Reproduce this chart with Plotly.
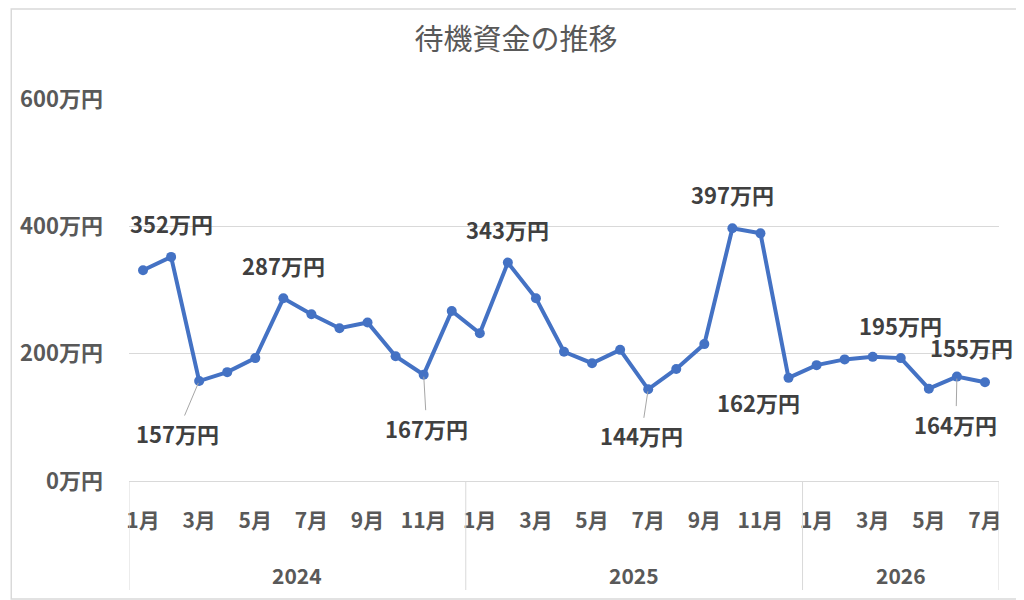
import plotly.graph_objects as go

# 2024/1 .. 2026/7
years = ["2024", "2025", "2026"]
months_per_year = [12, 12, 7]
month_names = ["1月", "2月", "3月", "4月", "5月", "6月", "7月", "8月", "9月", "10月", "11月", "12月"]
funds = [331, 352, 157, 171, 193, 287, 262, 240, 249, 196, 167, 267,
         232, 343, 287, 203, 185, 206, 144, 176, 215, 397, 389, 162,
         182, 191, 195, 193, 145, 164, 155]

# which points get a label, and whether they get a leader line
labeled = [1, 2, 5, 10, 13, 18, 21, 23, 26, 29, 30]
leader = [2, 10, 18, 29]
# offset of the label from its point, in pixels (dx, dy)
label_offsets = {1: (0, -34), 2: (-22, 52), 5: (0, -33), 10: (3, 53), 13: (0, -34),
                 18: (-7, 46), 21: (0, -34), 23: (-30, 24), 26: (28, -32),
                 29: (-1, 47), 30: (-13, -35)}

month_labels = []
year_of = []
for y, n in zip(years, months_per_year):
    for m in range(n):
        month_labels.append(month_names[m])
        year_of.append(y)
xs = list(range(len(funds)))

FONT = "Noto Sans CJK JP"
GREY = "#595959"
LINE = "#d9d9d9"

# page body has an 8px margin, so the figure is drawn 8px smaller
W, H = 1016, 592
L, R, T, B = 119, 25, 91, 119
plot_w = W - L - R
plot_h = H - T - B

fig = go.Figure()
fig.add_trace(go.Scatter(
    x=xs, y=funds, mode="lines+markers",
    line=dict(color="#4472C4", width=4),
    marker=dict(color="#4472C4", size=10),
    hoverinfo="skip",
))

for i in labeled:
    dx, dy = label_offsets[i]
    text = f"{funds[i]}万円"
    if i in leader:
        fig.add_annotation(x=xs[i], y=funds[i], text=text, showarrow=True,
                           ax=dx, ay=dy, arrowhead=0, arrowwidth=1, arrowcolor="#a6a6a6",
                           standoff=2,
                           font=dict(family=FONT, size=22, color="#404040", weight="bold"))
    else:
        fig.add_annotation(x=xs[i], y=funds[i], text=text, showarrow=False,
                           xshift=dx, yshift=-dy,
                           font=dict(family=FONT, size=22, color="#404040", weight="bold"))

# year group labels and dividers under the axis
start = 0
bounds = [-0.5]
for y, n in zip(years, months_per_year):
    fig.add_annotation(x=start + (n - 1) / 2, y=-94 / plot_h, xref="x", yref="paper",
                       text=y, showarrow=False, yanchor="middle",
                       font=dict(family=FONT, size=21, color=GREY, weight="bold"))
    start += n
    bounds.append(start - 0.5)
for b in bounds:
    fig.add_shape(type="line", xref="x", yref="paper", x0=b, x1=b, y0=0, y1=-109 / plot_h,
                  line=dict(color=LINE, width=1))

# chart border
fig.add_shape(type="rect", xref="paper", yref="paper",
              x0=-(L - 1) / plot_w, x1=(plot_w + R - 1) / plot_w,
              y0=-(B - 1) / plot_h, y1=(plot_h + T - 1) / plot_h,
              line=dict(color=LINE, width=1.5))

fig.update_layout(
    width=W, height=H,
    margin=dict(l=L, r=R, t=T, b=B),
    paper_bgcolor="white", plot_bgcolor="white",
    showlegend=False,
    title=dict(text="待機資金の推移", x=0.5, xanchor="center", y=1 - 32 / H, yanchor="middle",
               font=dict(family=FONT, size=29, color=GREY)),
    xaxis=dict(range=[-0.5, len(funds) - 0.5], tickmode="array",
               tickvals=xs[::2], ticktext=month_labels[::2],
               showgrid=False, zeroline=False, showline=True, linecolor=LINE, linewidth=1,
               ticks="", ticklabelstandoff=21,
               tickfont=dict(family=FONT, size=21, color=GREY, weight="bold")),
    yaxis=dict(range=[0, 600], dtick=200, ticksuffix="万円",
               showgrid=True, gridcolor=LINE, gridwidth=1, zeroline=False, showline=False,
               ticks="", ticklabelstandoff=25,
               tickfont=dict(family=FONT, size=22, color=GREY, weight="bold")),
)

fig.write_html("out.html")
